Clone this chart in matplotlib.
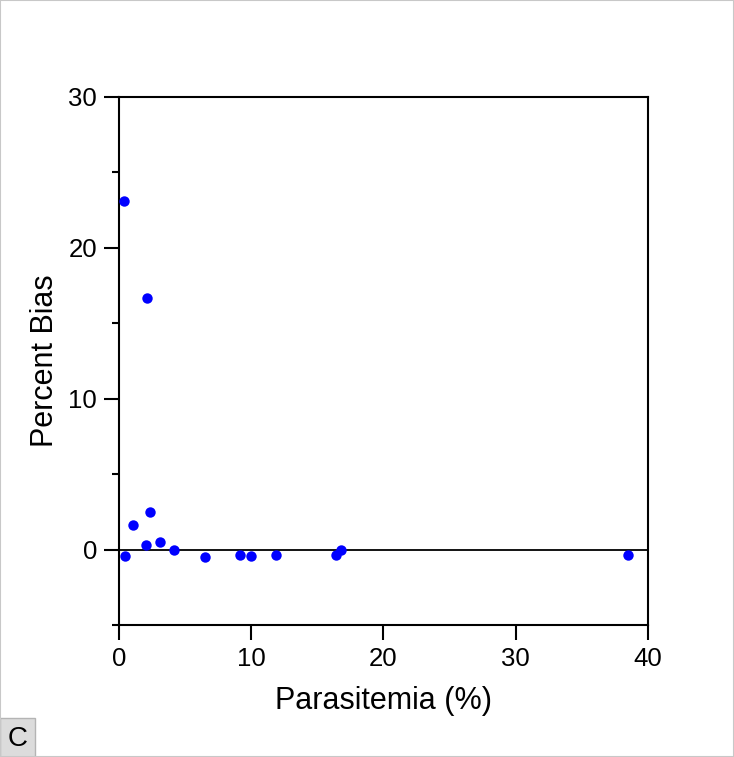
import numpy as np
import matplotlib.pyplot as plt
from matplotlib.patches import Rectangle
from matplotlib.ticker import MultipleLocator

plt.rcParams['font.family'] = ['Liberation Sans', 'DejaVu Sans']

# values
parasitemia = [0.38, 2.12, 2.34, 1.06, 2.04, 3.10, 4.16, 0.45, 6.5,
               9.15, 10.0, 11.87, 16.4, 16.8, 38.5]
percent_bias = [23.1, 16.7, 2.5, 1.66, 0.33, 0.53, 0.0, -0.4, -0.5,
                -0.33, -0.46, -0.37, -0.33, -0.02, -0.37]
x_ticks = [0, 10, 20, 30, 40]
y_ticks = [0, 10, 20, 30]

fig = plt.figure(figsize=(7.34, 7.57), dpi=100)
ax = fig.add_axes([0.1621, 0.1744, 0.7207, 0.6975])

ax.axhline(0, color='black', lw=1.3, zorder=1)
ax.plot(parasitemia, percent_bias, 'o', color='#0000ff', ms=7.5,
        mec='none', zorder=3, clip_on=False)

ax.set_xlim(0, 40)
ax.set_ylim(-5, 30)
ax.set_xticks(x_ticks)
ax.set_yticks(y_ticks)
ax.yaxis.set_minor_locator(MultipleLocator(5))
ax.tick_params(direction='out', length=10.8, width=1.5, labelsize=18.5,
               colors='black', pad=5)
ax.tick_params(axis='y', which='minor', direction='out', length=5, width=1.5)
for s in ax.spines.values():
    s.set_linewidth(1.5)

ax.set_xlabel('Parasitemia (%)', fontsize=22, labelpad=11)
ax.set_ylabel('Percent Bias', fontsize=22, labelpad=6)

# panel letter box
fig.patches.append(Rectangle((0, 0), 35 / 734, 39 / 757, transform=fig.transFigure,
                             facecolor='#dcdcdc', edgecolor='#b4b4b4', lw=1))
fig.text(17.5 / 734, 18 / 757, 'C', fontsize=20, ha='center', va='center')

# figure border
fig.patches.append(Rectangle((0, 0), 1, 1, transform=fig.transFigure,
                             facecolor='none', edgecolor='#c8c8c8', lw=1.5))

fig.savefig('out.png', dpi=100)
